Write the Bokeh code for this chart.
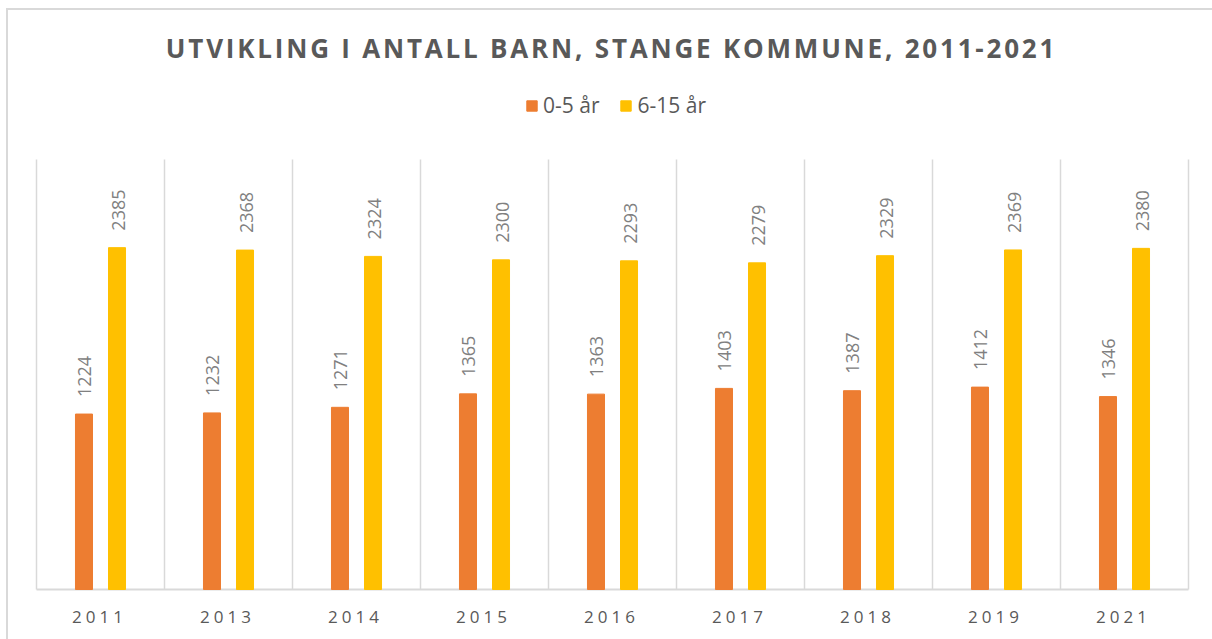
import numpy as np
from bokeh.plotting import figure
from bokeh.layouts import column
from bokeh.models import (ColumnDataSource, FixedTicker, Legend, LegendItem,
                          Range1d, Div, GlobalInlineStyleSheet)
from bokeh.core.properties import value
from bokeh.embed import file_html
from bokeh.resources import INLINE

# ---- data ----
years = ["2011", "2013", "2014", "2015", "2016", "2017", "2018", "2019", "2021"]
age_0_5 = [1224, 1232, 1271, 1365, 1363, 1403, 1387, 1412, 1346]
age_6_15 = [2385, 2368, 2324, 2300, 2293, 2279, 2329, 2369, 2380]
series_names = ["0-5 år", "6-15 år"]
title_text = "UTVIKLING I ANTALL BARN, STANGE KOMMUNE, 2011-2021"
y_axis_max = 3000

colors = ["#ED7D31", "#FFC000"]
FONT = "Open Sans"
GRID = "#D9D9D9"
W = 1210  # extends past the window's right edge, like the cropped reference

n = len(years)
idx = np.arange(n)
xc = idx + 0.5
dodge = 0.129
src = ColumnDataSource(dict(
    x0=xc - dodge, x1=xc + dodge,
    a=age_0_5, b=age_6_15,
    la=[str(v) for v in age_0_5], lb=[str(v) for v in age_6_15],
))

# pixel scale of the value axis: 430 px for 0..3000
k = 430 / y_axis_max
frame_h = 521
x_pad = 4 / 128
x_range = Range1d(-x_pad, n + x_pad)

# ---- title (HTML, letter-spaced) ----
title_div = Div(
    text=title_text, width=W, height=60, margin=0,
    styles={"text-align": "center", "font-family": "'Open Sans'", "font-weight": "bold",
            "font-size": "26px", "letter-spacing": "2.8px", "color": "#595959",
            "padding-top": "20px", "padding-right": "3px", "white-space": "nowrap",
            "line-height": "normal", "box-sizing": "border-box"})

# ---- main plot ----
p = figure(width=W, height=frame_h, output_backend="svg", toolbar_location=None,
           x_range=x_range, y_range=Range1d(-2 / k, (frame_h - 2) / k),
           x_axis_location=None, y_axis_location=None,
           min_border=0, min_border_left=24, min_border_right=26,
           min_border_top=0, min_border_bottom=0)
p.outline_line_color = None
p.grid.visible = False
p.background_fill_color = "white"
p.border_fill_color = "white"

bounds = np.arange(n + 1)
p.segment(x0=bounds, y0=0, x1=bounds, y1=y_axis_max, line_color=GRID, line_width=1.5)
p.segment(x0=[0], y0=[0], x1=[n], y1=[0], line_color=GRID, line_width=2)

r0 = p.vbar(x="x0", top="a", width=0.133, source=src, fill_color=colors[0], line_color=colors[0])
r1 = p.vbar(x="x1", top="b", width=0.133, source=src, fill_color=colors[1], line_color=colors[1])

for xcol, ycol, tcol in (("x0", "a", "la"), ("x1", "b", "lb")):
    p.text(x=xcol, y=ycol, text=tcol, source=src, angle=np.pi / 2,
           text_align="left", text_baseline="middle", x_offset=1, y_offset=-17,
           text_font=value(FONT), text_font_size="18px", text_color="#808080")

legend = Legend(items=[LegendItem(label=series_names[0], renderers=[r0]),
                       LegendItem(label=series_names[1], renderers=[r1])],
                orientation="horizontal", location=(493, 472),
                glyph_width=13, glyph_height=13, label_standoff=5, spacing=20,
                padding=0, margin=0, border_line_color=None, background_fill_alpha=0,
                label_text_font=FONT, label_text_font_size="21px", label_text_color="#595959")
p.add_layout(legend)

# ---- category axis (letter-spaced labels) ----
shift = 9 / 128  # compensates the extra width added by letter-spacing
p2 = figure(width=W, height=54, output_backend="svg", toolbar_location=None,
            x_range=Range1d(-x_pad + shift, n + x_pad + shift), y_range=Range1d(0, 1),
            y_axis_location=None,
            min_border=0, min_border_left=24, min_border_right=26,
            min_border_top=0, min_border_bottom=50)
p2.outline_line_color = None
p2.grid.visible = False
p2.styles = {"letter-spacing": "4px"}
ax = p2.xaxis[0]
ax.ticker = FixedTicker(ticks=list(xc))
ax.major_label_overrides = {float(x): y for x, y in zip(xc, years)}
ax.major_tick_line_color = None
ax.minor_tick_line_color = None
ax.major_tick_out = 0
ax.major_tick_in = 0
ax.axis_line_color = None
ax.major_label_text_font = FONT
ax.major_label_text_font_size = "17px"
ax.major_label_text_color = "#595959"
ax.major_label_standoff = 15

layout = column(title_div, p, p2, spacing=0, margin=(8, 0, 0, 6),
                styles={"border-left": f"2px solid {GRID}", "border-top": f"2px solid {GRID}"},
                stylesheets=[GlobalInlineStyleSheet(css="html, body { overflow: hidden; }")])

open("out.html", "w").write(file_html(layout, INLINE))
